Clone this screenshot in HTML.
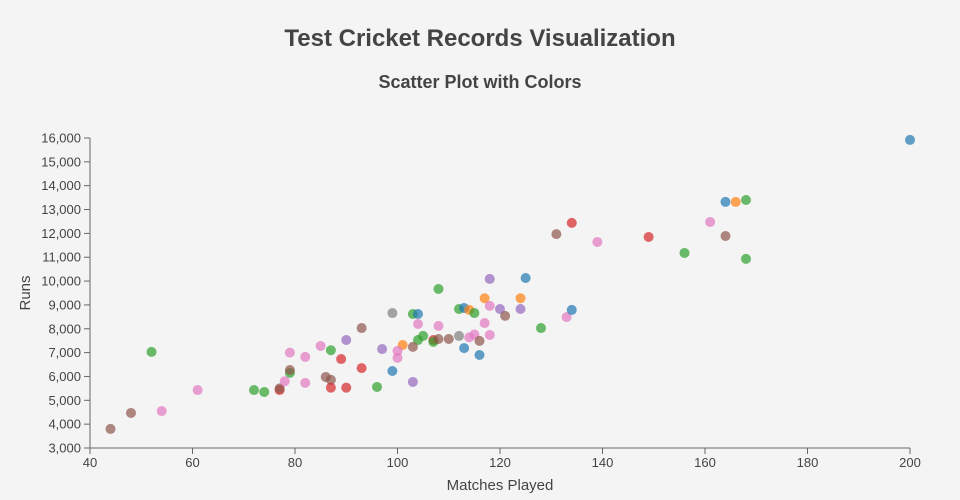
<!DOCTYPE html>
<html><head><meta charset="utf-8"><style>
body{margin:0;background:#f4f4f4;font-family:"Liberation Sans",sans-serif;}
svg{display:block}
text{fill:#444}
</style></head><body>
<svg width="960" height="500">
<rect width="960" height="500" fill="#f4f4f4"/>
<text x="480" y="46" text-anchor="middle" font-size="24" font-weight="bold">Test Cricket Records Visualization</text>
<text x="480" y="88" text-anchor="middle" font-size="18" font-weight="bold">Scatter Plot with Colors</text>
<g id="xaxis"></g>
<g id="yaxis"></g>
<g id="points"></g>
<text x="500" y="490" text-anchor="middle" font-size="15">Matches Played</text>
<text transform="translate(30,293) rotate(-90)" text-anchor="middle" font-size="15">Runs</text>
</svg>
<script>
const xTicks=[40,60,80,100,120,140,160,180,200];
const yTicks=[3000,4000,5000,6000,7000,8000,9000,10000,11000,12000,13000,14000,15000,16000];
const palette=["#1f77b4","#ff7f0e","#2ca02c","#d62728","#9467bd","#8c564b","#e377c2","#7f7f7f"];
const matches=[44,48,54,61,52,72,74,77,77,79,79,78,79,82,82,85,87,86,87,87,90,89,90,93,93,96,99,97,101,100,100,99,103,103,104,104,108,108,105,104,103,107,107,108,110,112,113,114,115,116,116,118,117,112,113,114,115,117,118,118,120,121,124,124,125,128,133,134,134,131,139,149,156,161,164,164,166,168,168,200];
const runs=[3800,4470,4550,5430,7030,5430,5350,5430,5500,6150,6270,5800,7000,6820,5730,7280,7100,5980,5860,5530,5530,6730,7530,8030,6350,5560,8660,7150,7320,7070,6780,6230,5770,8620,8620,8200,9670,8120,7700,7530,7240,7530,7450,7570,7570,7700,7190,7640,7760,7490,6900,7740,8240,8830,8870,8790,8660,9280,8960,10090,8830,8540,9280,8830,10130,8030,8490,8790,12440,11970,11640,11850,11180,12480,11890,13320,13320,13400,10930,15920];
const groups=[5,5,6,6,2,2,2,3,5,2,5,6,6,6,6,6,2,5,5,3,3,3,4,5,3,2,7,4,1,6,6,0,4,2,0,6,2,6,2,2,5,3,2,5,5,7,0,6,6,5,0,6,6,2,0,1,2,1,6,4,4,5,1,4,0,2,6,0,3,5,6,3,2,6,5,0,1,2,2,0];
const X=v=>90+(v-40)*820/160;
const Y=v=>448-(v-3000)*310/13000;
const NS="http://www.w3.org/2000/svg";
function mk(t,a,p){const e=document.createElementNS(NS,t);for(const k in a)e.setAttribute(k,a[k]);p.appendChild(e);return e;}
const xa=document.getElementById('xaxis'),ya=document.getElementById('yaxis'),pg=document.getElementById('points');
let l=mk('line',{x1:90,x2:910,y1:448,y2:448,stroke:'#666'},xa);


l=mk('line',{x1:90,x2:90,y1:138,y2:448,stroke:'#666'},ya);


xTicks.forEach(v=>{
 const t=mk('line',{x1:X(v),x2:X(v),y1:448,y2:454,stroke:'#666'},xa);
 
 
 const tx=mk('text',{x:X(v),y:467,'text-anchor':'middle','font-size':13},xa);
 tx.textContent=v;
 
 
});
yTicks.forEach(v=>{
 const t=mk('line',{x1:84,x2:90,y1:Y(v),y2:Y(v),stroke:'#666'},ya);
 
 
 const tx=mk('text',{x:81,y:Y(v)+4.5,'text-anchor':'end','font-size':13},ya);
 tx.textContent=v.toLocaleString('en-US');
 
 
});
matches.forEach((m,i)=>{
 const c=mk('circle',{cx:X(m),cy:Y(runs[i]),r:5,fill:palette[groups[i]],'fill-opacity':0.7},pg);
 
 
});
</script>
</body></html>
